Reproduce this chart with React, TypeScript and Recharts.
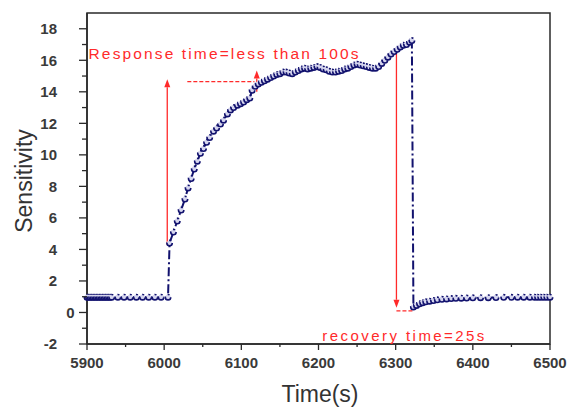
import React from 'react'
import { LineChart, Line, XAxis, YAxis, ReferenceLine, ReferenceDot, ReferenceArea, Label } from 'recharts'

// sample times (s)
const times = [
  5900, 5902, 5904, 5906, 5908, 5910, 5912, 5914, 5916, 5918, 5920, 5922, 5924, 5926, 5928, 5930, 5932,
  5940, 5948, 5956, 5964, 5972, 5980, 5988, 5996, 6005,
  6007, 6012, 6017, 6022, 6027, 6031, 6035, 6039, 6043, 6047, 6051, 6055, 6059, 6064, 6068,
  6073, 6077, 6082, 6086, 6090, 6095, 6099, 6103, 6107, 6111, 6114, 6118, 6122, 6126, 6130,
  6134, 6138, 6142, 6146, 6150, 6154, 6158, 6162, 6166, 6170, 6174, 6178, 6182, 6186, 6190,
  6194, 6198, 6202, 6206, 6210, 6214, 6218, 6222, 6226, 6230, 6234, 6238, 6242, 6246, 6250,
  6254, 6258, 6262, 6266, 6270, 6274, 6278, 6282, 6286, 6290, 6294, 6298, 6302, 6306, 6310,
  6314, 6318, 6321,
  6323, 6327, 6331, 6335, 6339, 6344, 6349, 6354, 6360, 6366, 6372, 6378, 6385, 6392, 6400,
  6410, 6420, 6430, 6440, 6450, 6458, 6466, 6474, 6480, 6484, 6488, 6492, 6496, 6500,
]

const sensitivity = [
  0.97, 0.97, 0.97, 0.97, 0.97, 0.97, 0.97, 0.97, 0.97, 0.97, 0.97, 0.97, 0.97, 0.97, 0.97, 0.97, 0.97,
  0.97, 0.97, 0.97, 0.97, 0.97, 0.97, 0.97, 0.97, 0.97,
  4.4, 5.1, 5.8, 6.5, 7.2, 7.9, 8.5, 9.1, 9.6, 10.1, 10.4, 10.8, 11.1, 11.5, 11.7,
  11.95, 12.2, 12.6, 12.85, 13.0, 13.15, 13.25, 13.35, 13.5, 13.6, 14.1, 14.35, 14.5, 14.6, 14.7,
  14.8, 14.9, 15.0, 15.1, 15.15, 15.25, 15.25, 15.2, 15.15, 15.25, 15.35, 15.45, 15.5, 15.45, 15.5,
  15.55, 15.6, 15.55, 15.45, 15.4, 15.3, 15.25, 15.25, 15.3, 15.35, 15.45, 15.5, 15.6, 15.7, 15.75,
  15.7, 15.65, 15.6, 15.55, 15.5, 15.5, 15.6, 15.8, 16.0, 16.2, 16.4, 16.55, 16.7, 16.85, 16.95,
  17.0, 17.15, 17.25,
  0.35, 0.45, 0.55, 0.62, 0.68, 0.72, 0.76, 0.8, 0.84, 0.86, 0.88, 0.9, 0.91, 0.92, 0.93,
  0.94, 0.94, 0.95, 0.96, 0.96, 0.97, 0.97, 0.97, 0.97, 0.97, 0.97, 0.97, 0.97, 0.97,
]

const xMajorTicks = [5900, 6000, 6100, 6200, 6300, 6400, 6500]
const xMinorTicks = [5950, 6050, 6150, 6250, 6350, 6450]
const yMajorTicks = [-2, 0, 2, 4, 6, 8, 10, 12, 14, 16, 18]
const yMinorTicks = [-1, 1, 3, 5, 7, 9, 11, 13, 15, 17]

const responseLabel = 'Response time=less than 100s'
const recoveryLabel = 'recovery time=25s'

const data = times.map((t, i) => ({ time: t, value: sensitivity[i] }))

const FONT = '"Liberation Sans", Arial, sans-serif'
const AXIS = '#2a2a2a'
const TICK_TEXT = '#3a3a3a'
const NAVY = '#12126e'
const RED = '#ff2a2a'

function XTick(props: any) {
  const { x, y, payload } = props
  const major = payload.value % 100 === 0
  return (
    <g>
      <line x1={x} y1={y} x2={x} y2={y + (major ? 6 : 3)} stroke={AXIS} strokeWidth={1.3} />
      {major && (
        <text x={x} y={y + 24} textAnchor="middle" fontSize={15} fontWeight="bold" fontFamily={FONT} fill={TICK_TEXT}>
          {payload.value}
        </text>
      )}
    </g>
  )
}

function YTick(props: any) {
  const { x, y, payload } = props
  const major = payload.value % 2 === 0
  // the "0" label sits further right in the original
  const tx = payload.value === 0 ? x - 12.5 : x - 30
  return (
    <g>
      <line x1={x - (major ? 8 : 5)} y1={y} x2={x} y2={y} stroke={AXIS} strokeWidth={1.3} />
      {major && (
        <text x={tx} y={y + 5.3} textAnchor="end" fontSize={15} fontWeight="bold" fontFamily={FONT} fill={TICK_TEXT}>
          {payload.value}
        </text>
      )}
    </g>
  )
}

// red annotation line, optional dashed, optional arrow head at the end point
function redLine(dashed: boolean, head: boolean) {
  return (p: any) => {
    const { x1, y1, x2, y2 } = p
    const dx = x2 - x1
    const dy = y2 - y1
    const len = Math.sqrt(dx * dx + dy * dy) || 1
    const ux = dx / len
    const uy = dy / len
    const hl = 8
    const hw = 3
    const bx = x2 - ux * hl
    const by = y2 - uy * hl
    return (
      <g>
        <line
          x1={x1}
          y1={y1}
          x2={head ? bx : x2}
          y2={head ? by : y2}
          stroke={RED}
          strokeWidth={1.3}
          strokeDasharray={dashed ? '4 2' : undefined}
        />
        {head && (
          <polygon
            points={`${x2},${y2} ${bx - uy * hw},${by + ux * hw} ${bx + uy * hw},${by - ux * hw}`}
            fill={RED}
          />
        )}
      </g>
    )
  }
}

function redText(text: string, size: number, length: number) {
  return (p: any) => (
    <text
      x={p.cx}
      y={p.cy}
      fontSize={size}
      fontFamily={FONT}
      fill={RED}
      textLength={length}
      lengthAdjust="spacing"
    >
      {text}
    </text>
  )
}

export default function App() {
  return (
    <div style={{ position: 'absolute', left: 0, top: 0, background: '#fff' }}>
      <LineChart width={568} height={408} data={data} margin={{ top: 13, right: 18, left: 0, bottom: 0 }}>
        <XAxis
          dataKey="time"
          type="number"
          domain={[5900, 6500]}
          ticks={[...xMajorTicks, ...xMinorTicks].sort((a, b) => a - b)}
          interval={0}
          height={64}
          tickSize={0}
          tickMargin={0}
          tick={<XTick />}
          axisLine={{ stroke: AXIS, strokeWidth: 1.5 }}
          label={
            <Label
              content={() => (
                <text x={320} y={402} textAnchor="middle" fontSize={23} fontFamily={FONT} fill="#333">
                  Time(s)
                </text>
              )}
            />
          }
        />
        <YAxis
          type="number"
          domain={[-2, 19]}
          ticks={[...yMajorTicks, ...yMinorTicks].sort((a, b) => a - b)}
          interval={0}
          width={87}
          tickSize={0}
          tickMargin={0}
          tick={<YTick />}
          axisLine={{ stroke: AXIS, strokeWidth: 1.5 }}
          label={
            <Label
              content={() => (
                <text
                  x={32}
                  y={181}
                  textAnchor="middle"
                  fontSize={23}
                  fontFamily={FONT}
                  fill="#333"
                  transform="rotate(-90 32 181)"
                >
                  Sensitivity
                </text>
              )}
            />
          }
        />
        <ReferenceArea x1={5900} x2={6500} y1={-2} y2={19} fill="none" stroke={AXIS} strokeWidth={1.5} />

        <ReferenceLine segment={[{ x: 6004, y: 4.3 }, { x: 6004, y: 14.8 }]} shape={redLine(false, true)} />
        <ReferenceLine segment={[{ x: 6030, y: 14.65 }, { x: 6117, y: 14.65 }]} shape={redLine(true, false)} />
        <ReferenceLine segment={[{ x: 6120, y: 14.0 }, { x: 6120, y: 15.35 }]} shape={redLine(false, true)} />
        <ReferenceLine segment={[{ x: 6301, y: 16.8 }, { x: 6301, y: 0.3 }]} shape={redLine(false, true)} />
        <ReferenceLine segment={[{ x: 6301, y: 0.1 }, { x: 6323, y: 0.1 }]} shape={redLine(true, false)} />

        <Line
          type="linear"
          dataKey="value"
          stroke={NAVY}
          strokeWidth={2}
          strokeDasharray="9 3 2 3"
          dot={{ r: 2.7, stroke: NAVY, strokeWidth: 1.6, fill: '#d6d6ee' }}
          isAnimationActive={false}
        />

        <ReferenceDot x={5902} y={16.05} r={0} ifOverflow="visible" shape={redText(responseLabel, 15.5, 270)} />
        <ReferenceDot x={6205} y={-1.8} r={0} ifOverflow="visible" shape={redText(recoveryLabel, 15, 162)} />
      </LineChart>
    </div>
  )
}
